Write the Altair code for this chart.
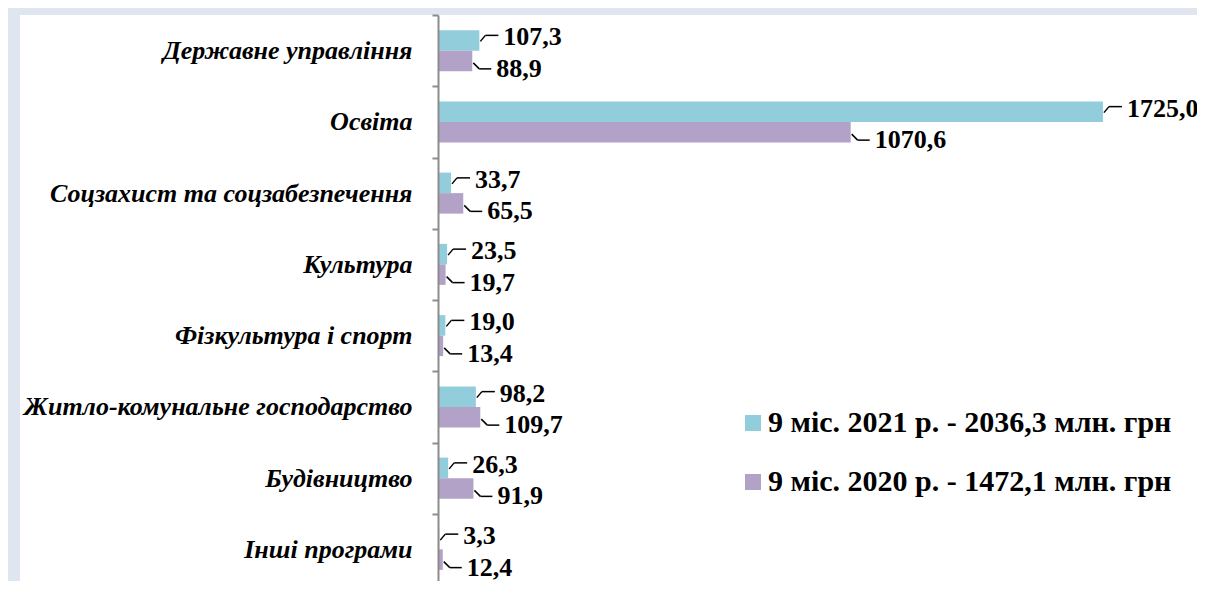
import altair as alt
import pandas as pd

categories = [
    "Державне управління",
    "Освіта",
    "Соцзахист та соцзабезпечення",
    "Культура",
    "Фізкультура і спорт",
    "Житло-комунальне господарство",
    "Будівництво",
    "Інші програми",
]
values_2021 = [107.3, 1725.0, 33.7, 23.5, 19.0, 98.2, 26.3, 3.3]
values_2020 = [88.9, 1070.6, 65.5, 19.7, 13.4, 109.7, 91.9, 12.4]
series_names = [
    "9 міс. 2021 р. - 2036,3 млн. грн",
    "9 міс. 2020 р. - 1472,1 млн. грн",
]
colors = ["#92CDDC", "#B2A2C7"]

rows = []
for cat, v in zip(categories, values_2021):
    rows.append({"cat": cat, "series": series_names[0], "value": v,
                 "label": f"{v:.1f}".replace(".", ",")})
for cat, v in zip(categories, values_2020):
    rows.append({"cat": cat, "series": series_names[1], "value": v,
                 "label": f"{v:.1f}".replace(".", ",")})
df = pd.DataFrame(rows)

FONT = "Liberation Serif"
W, H = 759, 566
BAND_RANGE = 570

yscale = alt.Scale(domain=categories, range=[0, BAND_RANGE], paddingInner=0, paddingOuter=0)
xscale = alt.Scale(domain=[0, 1969], nice=False, zero=True)
cscale = alt.Scale(domain=series_names, range=colors)

yenc = alt.Y("cat:N", scale=yscale, sort=categories,
             axis=alt.Axis(title=None, tickBand="extent", tickSize=6, tickWidth=2,
                           tickColor="#8c8c8c", domainColor="#8c8c8c", domainWidth=2,
                           labelFont=FONT, labelFontSize=26, labelFontStyle="italic",
                           labelFontWeight="bold", labelColor="black", labelPadding=20,
                           labelLimit=0, zindex=1))
xenc = alt.X("value:Q", scale=xscale, axis=None)

panel = alt.Chart(df).mark_rect(fill="white").encode(
    x=alt.value(-418), x2=alt.value(W + 20), y=alt.value(0), y2=alt.value(H + 20)
)

layers = [panel]
offsets = {series_names[0]: -10.25, series_names[1]: 10.25}
for i, s in enumerate(series_names):
    off = offsets[s]
    sub = alt.Chart(df).transform_filter(alt.datum.series == s)
    bars = sub.mark_bar(size=20.5, yOffset=off).encode(
        y=yenc, x=xenc,
        color=alt.Color("series:N", scale=cscale,
                        legend=alt.Legend(title=None) if i == 0 else None),
    )
    layers.append(bars)
    if i == 0:
        seg1 = sub.mark_rule(color="black", strokeWidth=1.5, xOffset=1, x2Offset=6,
                             yOffset=off + 1, y2Offset=off - 5).encode(
            y=yenc, y2="cat", x=xenc, x2="value")
        seg2 = sub.mark_rule(color="black", strokeWidth=1.5, xOffset=6, x2Offset=19,
                             yOffset=off - 5).encode(y=yenc, x=xenc, x2="value")
        txt = sub.mark_text(align="left", baseline="middle", dx=24, yOffset=off - 3,
                            font=FONT, fontSize=26, fontWeight="bold", color="black").encode(
            y=yenc, x=xenc, text="label:N")
    else:
        seg1 = sub.mark_rule(color="black", strokeWidth=1.5, xOffset=1, x2Offset=7,
                             yOffset=off + 2, y2Offset=off + 8).encode(
            y=yenc, y2="cat", x=xenc, x2="value")
        seg2 = sub.mark_rule(color="black", strokeWidth=1.5, xOffset=7, x2Offset=19,
                             yOffset=off + 8).encode(y=yenc, x=xenc, x2="value")
        txt = sub.mark_text(align="left", baseline="middle", dx=24, yOffset=off + 8,
                            font=FONT, fontSize=26, fontWeight="bold", color="black").encode(
            y=yenc, x=xenc, text="label:N")
    layers += [seg1, seg2, txt]

chart = alt.layer(*layers).properties(
    width=W, height=H,
    autosize=alt.AutoSizeParams(type="none"),
    padding={"left": 430, "top": 7, "right": 0, "bottom": 0},
    background="#dfe6f0",
).configure_view(stroke=None).configure_legend(
    orient="none", legendX=300, legendY=393,
    symbolType="square", symbolSize=256, symbolStrokeWidth=0, symbolOpacity=1,
    labelFont=FONT, labelFontSize=30, labelFontWeight="bold", labelColor="black",
    labelLimit=0, labelOffset=0, rowPadding=29, padding=0,
)

chart.save("out.html", embed_options={"renderer": "svg", "actions": False})
